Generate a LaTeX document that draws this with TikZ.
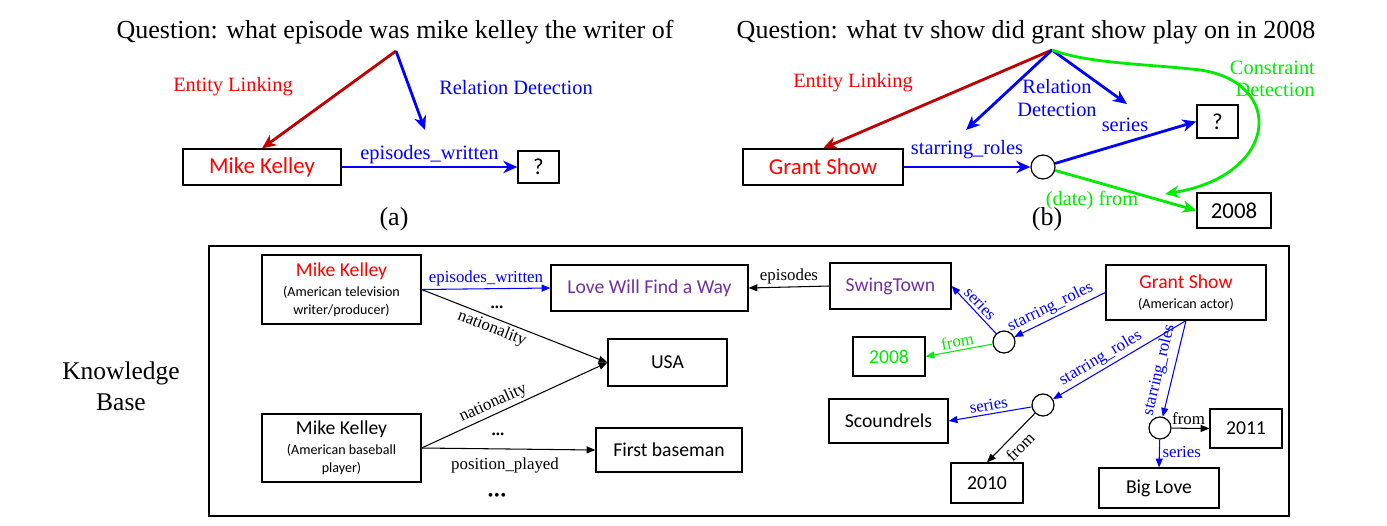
\documentclass[tikz,border=0pt]{standalone}
\usepackage{fontspec}
\setmainfont{Liberation Serif}
\newfontfamily\boxfont{Carlito}
\usetikzlibrary{arrows.meta}
\definecolor{linkred}{RGB}{192,0,0}
\definecolor{kbgreen}{RGB}{0,235,0}
\definecolor{kbpurple}{RGB}{112,48,160}
\newdimen\pxu \pxu=0.02cm
\newcommand\kbname[1]{{\fontsize{11.2}{13}\selectfont #1}}
\tikzset{
  qtext/.style={font=\fontsize{14.8}{17.6}\selectfont, inner sep=0pt},
  box/.style={draw, line width=0.7pt, inner sep=0pt, font=\boxfont\fontsize{13}{15}\selectfont},
  kbbox/.style={draw, line width=0.7pt, inner sep=0pt, align=center, font=\boxfont\fontsize{11.2}{13}\selectfont},
  kbsub/.style={kbbox, font=\boxfont\fontsize{8}{10.2}\selectfont},
  blank/.style={draw, circle, line width=0.7pt, minimum size=#1\pxu, inner sep=0pt},
  qarrow/.style={line width=1.6pt, -{Stealth[length=8pt,width=7pt,inset=2.5pt]}},
  kbarrow/.style={line width=0.6pt, -{Triangle[length=5pt,width=4pt]}},
  lbl/.style={font=\fontsize{11.6}{12.8}\selectfont, inner sep=1pt},
  rel/.style={font=\fontsize{9.6}{11}\selectfont, inner sep=1.5pt},
}
\begin{document}
\begin{tikzpicture}[x=0.02cm, y=-0.02cm]
\useasboundingbox (0,0) rectangle (1387,525);

% (a)
\node[qtext] (qa) at (395,32) {Question: what episode was mike kelley the writer of};
\coordinate (pa) at (396,51);
\coordinate (rda) at (425,130);
\node[box, text=red, minimum width=158\pxu, minimum height=36\pxu] (mka) at (262,167) {Mike Kelley};
\node[box, minimum width=41\pxu, minimum height=32\pxu] (qma) at (538.5,167) {?};
\node[lbl, text=red] (ela) at (233,87) {Entity Linking};
\node[lbl, text=blue] (rdla) at (516,88) {Relation Detection};
\draw[qarrow, linkred] (pa) -- (mka.north);
\draw[qarrow, blue] (pa) -- (rda);
\draw[qarrow, blue] (mka.east) -- node[lbl, text=blue, above] {episodes\_written} (qma.west);
\node[qtext] (capa) at (394,219) {(a)};

% (b)
\node[qtext] (qb) at (1026,32) {Question: what tv show did grant show play on in 2008};
\coordinate (pb) at (1052,50);
\coordinate (rdb1) at (966,130);
\coordinate (rdb2) at (1127,104);
\coordinate (cdb) at (1165,194);
\node[box, text=red, minimum width=160\pxu, minimum height=36\pxu] (gsb) at (823,167) {Grant Show};
\node[blank=24] (cb) at (1043,167) {};
\node[box, minimum width=41\pxu, minimum height=33\pxu] (qmb) at (1217.5,121.5) {?};
\node[box, minimum width=74\pxu, minimum height=35\pxu] (yb) at (1234,210.5) {2008};
\node[lbl, text=red] (elb) at (853,83) {Entity Linking};
\node[lbl, text=blue, align=center] (rdlb) at (1057,98) {Relation\\Detection};
\node[lbl, text=blue] (srb) at (1125,125) {series};
\node[lbl, text=kbgreen, align=right, anchor=east] (cdlb) at (1317,79) {Constraint\\Detection};
\draw[qarrow, linkred] (pb) -- (gsb.north);
\draw[qarrow, blue] (pb) -- (rdb1);
\draw[qarrow, blue] (pb) -- (rdb2);
\draw[qarrow, blue] (gsb.east) -- node[lbl, text=blue, above, yshift=3pt] {starring\_roles} (cb);
\draw[qarrow, blue] (cb) -- (qmb.west);
\draw[qarrow, kbgreen] (cb) -- (yb.west);
\draw[qarrow, kbgreen] (pb) .. controls (1090,64) and (1150,64) .. (1200,70)
  .. controls (1285,82) and (1280,175) .. (cdb);
\node[lbl, text=kbgreen] (dfb) at (1092,200) {(date) from};
\node[qtext] (capb) at (1047,219) {(b)};

% knowledge base
\draw[line width=0.8pt] (209,246) rectangle (1289,516);
\node[qtext, align=center, font=\fontsize{14.5}{17.6}\selectfont] (kbl) at (121,386) {Knowledge\\Base};
\node[kbsub, minimum width=159\pxu, minimum height=69\pxu] (mk1) at (341.5,289.5)
  {\kbname{\textcolor{red}{Mike Kelley}}\\[1pt](American television\\writer/producer)};
\node[kbsub, minimum width=159\pxu, minimum height=68\pxu] (mk2) at (341.5,448)
  {\kbname{Mike Kelley}\\[1pt](American baseball\\player)};
\node[kbbox, text=kbpurple, minimum width=197\pxu, minimum height=46\pxu] (lwfw) at (649.5,288) {Love Will Find a Way};
\node[kbbox, minimum width=119\pxu, minimum height=47\pxu] (usa) at (667.5,362.5) {USA};
\node[kbbox, minimum width=146\pxu, minimum height=44\pxu] (fb) at (669,450) {First baseman};
\node[kbbox, text=kbpurple, minimum width=121\pxu, minimum height=46\pxu] (swing) at (890.5,286) {SwingTown};
\node[kbsub, minimum width=160\pxu, minimum height=55\pxu] (gs) at (1186,292.5)
  {\kbname{\textcolor{red}{Grant Show}}\\[1pt](American actor)};
\node[blank=22] (c1) at (1004,342) {};
\node[kbbox, text=kbgreen, minimum width=72\pxu, minimum height=39\pxu] (y08) at (889,356.5) {2008};
\node[kbbox, minimum width=119\pxu, minimum height=44\pxu] (scd) at (888.5,421) {Scoundrels};
\node[blank=22] (c2) at (1043,405) {};
\node[kbbox, minimum width=72\pxu, minimum height=40\pxu] (y10) at (987,483) {2010};
\node[blank=22] (c3) at (1160,428) {};
\node[kbbox, minimum width=72\pxu, minimum height=39\pxu] (y11) at (1246,428.5) {2011};
\node[kbbox, minimum width=120\pxu, minimum height=40\pxu] (bl) at (1159,488) {Big Love};

\draw[kbarrow, blue] (mk1.east) -- node[rel, text=blue, above] {episodes\_written} (lwfw.west);
\node[rel] (dots1) at (497,307) {\textbf{...}};
\draw[kbarrow] (mk1.east) -- node[rel, sloped, below, pos=0.4] {nationality} (usa.west);
\draw[kbarrow] (mk2.east) -- node[rel, sloped, above, pos=0.41] {nationality} (usa.west);
\node[rel] (dots2) at (498,434) {\textbf{...}};
\draw[kbarrow] (mk2.east) -- node[rel, below, pos=0.48, yshift=-3pt] {position\_played} (fb.west);
\node[rel, font=\fontsize{9}{10}\selectfont] (dots3) at (497,497) {\textbullet\kern0.5pt\textbullet\kern0.5pt\textbullet};
\draw[kbarrow] (swing.west) -- node[rel, above] {episodes} (lwfw.east);

\draw[kbarrow, blue] (gs.west) -- node[rel, text=blue, sloped, above, pos=0.55] {starring\_roles} (c1);
\draw[kbarrow, blue] (c1) -- node[rel, text=blue, sloped, above] {series} (swing.east);
\draw[kbarrow, kbgreen] (c1) -- node[rel, text=kbgreen, sloped, above] {from} (y08.east);
\draw[kbarrow, blue] (gs.south) -- node[rel, text=blue, sloped, above, pos=0.6] {starring\_roles} (c2);
\draw[kbarrow, blue] (gs.south) -- node[rel, text=blue, sloped, above=2pt, pos=0.55] {starring\_roles} (c3);
\draw[kbarrow, blue] (c2) -- node[rel, text=blue, sloped, above] {series} (scd.east);
\draw[kbarrow] (c2) -- node[rel, sloped, below=2pt] {from} (y10.north);
\draw[kbarrow] (c3) -- node[rel, above, pos=0.45] {from} (y11.west);
\draw[kbarrow, blue] (c3) -- node[rel, text=blue, right, pos=0.45] {series} (bl.north);
\end{tikzpicture}
\end{document}
